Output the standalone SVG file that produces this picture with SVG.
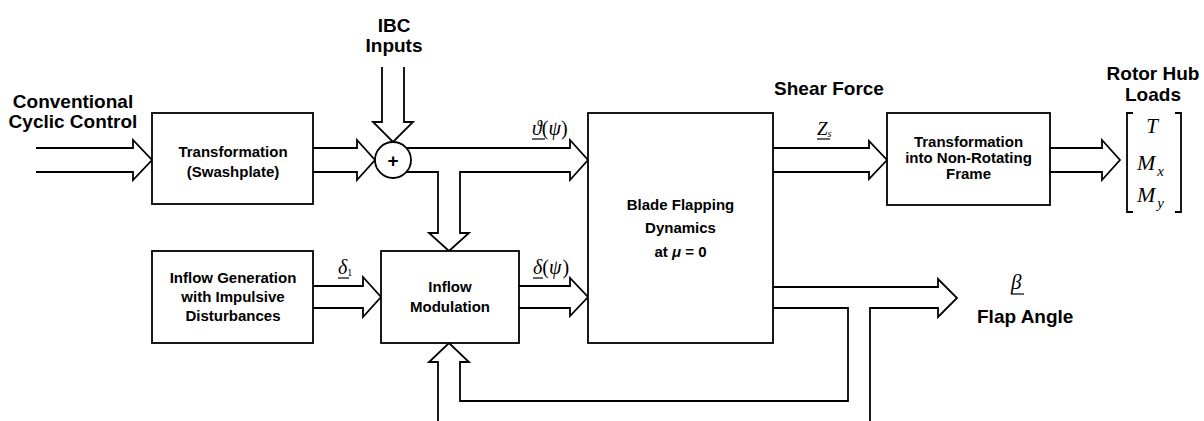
<svg xmlns="http://www.w3.org/2000/svg" width="1204" height="421" viewBox="0 0 1204 421">
<style>
.box{fill:#fff;stroke:#000;stroke-width:1.8}
.con{fill:none;stroke:#000;stroke-width:1.8;stroke-linejoin:miter}
.lbl{font-family:"Liberation Sans",Arial,sans-serif;font-weight:bold;font-size:19px;fill:#000}
.in{font-family:"Liberation Sans",Arial,sans-serif;font-weight:bold;font-size:15px;fill:#000;text-anchor:middle}
.m{font-family:"Liberation Serif","Times New Roman",serif;font-style:italic;fill:#000}
.ul{stroke:#000;stroke-width:1.2}
</style>
<rect width="1204" height="421" fill="#fff"/>
<g id="connectors">
  <!-- conventional input -->
  <polyline class="con" points="36,148 133,148 133,140 152,160 133,180 133,172 36,172"/>
  <!-- swashplate to summing junction -->
  <polyline class="con" points="313,148 357,148 357,140 375,160 357,180 357,172 313,172"/>
  <!-- IBC inputs -->
  <polyline class="con" points="382,67 382,122 373,122 393,142 413,122 404,122 404,67"/>
  <!-- junction outputs -->
  <polyline class="con" points="406,148 570,148 570,140 588,160 570,180 570,172 460,172 460,233 469,233 449,251 429,233 438,233 438,172 406,172"/>
  <!-- delta_1 -->
  <polyline class="con" points="313,286 363,286 363,277 381,297 363,317 363,308 313,308"/>
  <!-- delta(psi) -->
  <polyline class="con" points="519,286 570,286 570,278 588,297 570,316 570,308 519,308"/>
  <!-- shear force -->
  <polyline class="con" points="773,148 869,148 869,141 887,160 869,179 869,172 773,172"/>
  <!-- rotor hub loads -->
  <polyline class="con" points="1050,148 1102,148 1102,140 1120,160 1102,180 1102,172 1050,172"/>
  <!-- flap angle and feedback -->
  <polyline class="con" points="773,287 938,287 938,279 957,298 938,317 938,308 870,308 870,421"/>
  <polyline class="con" points="773,308 848,308 848,401 460,401 460,362 469,362 449,343 429,362 438,362 438,421"/>
</g>
<g id="sum">
  <circle cx="393" cy="160" r="18" fill="#fff" stroke="#000" stroke-width="1.8"/>
  <text x="393" y="167" class="lbl" text-anchor="middle" font-size="20">+</text>
</g>
<g id="swashplate">
  <rect class="box" x="152" y="113" width="161" height="91"/>
  <text class="in" x="233" y="157">Transformation</text>
  <text class="in" x="233" y="177">(Swashplate)</text>
</g>
<g id="inflow-generation">
  <rect class="box" x="152" y="251" width="161" height="92"/>
  <text class="in" x="233" y="283">Inflow Generation</text>
  <text class="in" x="233" y="302">with Impulsive</text>
  <text class="in" x="233" y="321">Disturbances</text>
</g>
<g id="inflow-modulation">
  <rect class="box" x="381" y="251" width="138" height="92"/>
  <text class="in" x="450" y="292">Inflow</text>
  <text class="in" x="450" y="312">Modulation</text>
</g>
<g id="blade-flapping">
  <rect class="box" x="588" y="113" width="185" height="230"/>
  <text class="in" x="680.5" y="210">Blade Flapping</text>
  <text class="in" x="680.5" y="233">Dynamics</text>
  <text class="in" x="680.5" y="257">at <tspan font-style="italic">μ</tspan> = 0</text>
</g>
<g id="non-rotating">
  <rect class="box" x="887" y="113" width="163" height="92"/>
  <text class="in" x="968.5" y="147">Transformation</text>
  <text class="in" x="968.5" y="163">into Non-Rotating</text>
  <text class="in" x="968.5" y="179">Frame</text>
</g>
<g id="labels">
  <text class="lbl" x="73" y="108" text-anchor="middle">Conventional</text>
  <text class="lbl" x="73" y="128" text-anchor="middle">Cyclic Control</text>
  <text class="lbl" x="394" y="32" text-anchor="middle">IBC</text>
  <text class="lbl" x="394" y="52" text-anchor="middle">Inputs</text>
  <text class="lbl" x="829" y="95" text-anchor="middle">Shear Force</text>
  <text class="lbl" x="1153" y="80" text-anchor="middle">Rotor Hub</text>
  <text class="lbl" x="1153" y="101" text-anchor="middle">Loads</text>
  <text class="lbl" x="977" y="323">Flap Angle</text>
  <!-- signal labels -->
  <text class="m" x="532" y="135" font-size="20">ϑ<tspan font-style="normal">(</tspan>ψ<tspan font-style="normal">)</tspan></text>
  <line class="ul" x1="532" y1="139" x2="545" y2="139"/>
  <text class="m" x="533" y="274" font-size="20">δ<tspan font-style="normal">(</tspan>ψ<tspan font-style="normal" dx="1">)</tspan></text>
  <line class="ul" x1="533" y1="278" x2="543" y2="278"/>
  <text class="m" x="338" y="274" font-size="20">δ<tspan font-size="10" font-style="normal" dy="2">1</tspan></text>
  <line class="ul" x1="338" y1="278" x2="349" y2="278"/>
  <text class="m" x="817" y="135" font-size="19">Z<tspan font-size="10" dy="2">s</tspan></text>
  <line class="ul" x1="817" y1="139" x2="830" y2="139"/>
  <text class="m" x="1011" y="289" font-size="21">β</text>
  <line class="ul" x1="1011" y1="294" x2="1024" y2="294"/>
  <!-- matrix -->
  <polyline class="con" stroke-width="1.5" points="1133,113 1127,113 1127,212 1133,212"/>
  <polyline class="con" stroke-width="1.5" points="1175,113 1181,113 1181,212 1175,212"/>
  <text class="m" x="1152" y="133" font-size="21" text-anchor="middle">T</text>
  <text class="m" x="1137" y="170" font-size="22">M<tspan font-size="15" dx="2" dy="6">x</tspan></text>
  <text class="m" x="1137" y="202" font-size="22">M<tspan font-size="15" dx="2" dy="6">y</tspan></text>
</g>
</svg>
